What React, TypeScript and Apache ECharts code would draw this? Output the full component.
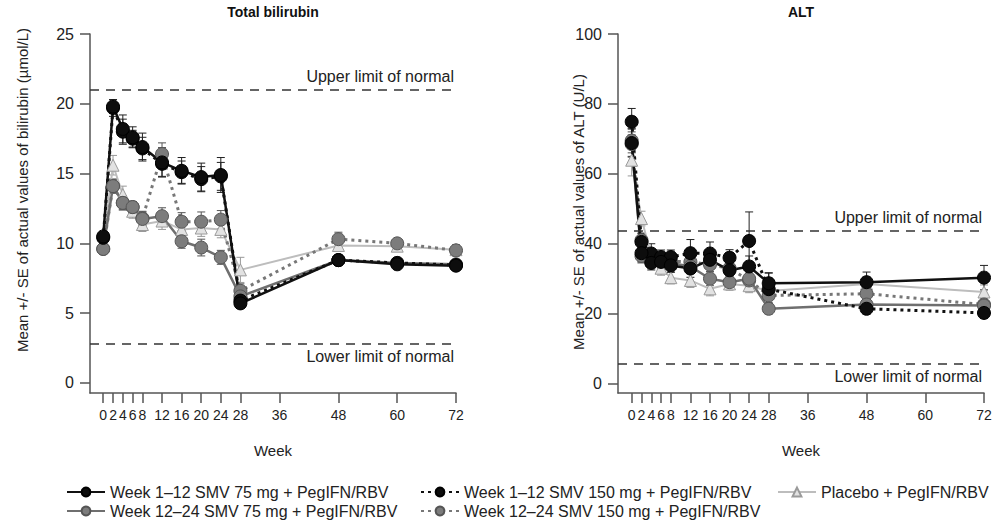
import React, { useEffect, useRef } from "react";
import * as echarts from "echarts";

// ---------- data ----------
const weeksBili = [0, 2, 4, 6, 8, 12, 16, 20, 24, 28, 48, 60, 72];
const weeksAlt = [0, 2, 4, 6, 8, 12, 16, 20, 24, 28, 48, 72];
const weekTicks = [0, 2, 4, 6, 8, 12, 16, 20, 24, 28, 36, 48, 60, 72];
const biliTicks = [0, 5, 10, 15, 20, 25];
const altTicks = [0, 20, 40, 60, 80, 100];

const nameA = "Week 1–12 SMV 75 mg + PegIFN/RBV";
const nameB = "Week 1–12 SMV 150 mg + PegIFN/RBV";
const nameC = "Week 12–24 SMV 75 mg + PegIFN/RBV";
const nameD = "Week 12–24 SMV 150 mg + PegIFN/RBV";
const nameE = "Placebo + PegIFN/RBV";

// Total bilirubin (µmol/L) means and SE
const biliA = [10.5, 19.8, 18.2, 17.6, 16.9, 15.8, 15.2, 14.75, 14.9, 5.7, 8.8, 8.5, 8.4];
const biliB = [10.4, 19.7, 18.0, 17.5, 16.8, 15.7, 15.1, 14.6, 14.8, 5.9, 8.8, 8.6, 8.45];
const biliC = [9.6, 14.1, 12.9, 12.6, 11.75, 11.95, 10.15, 9.7, 9.0, 6.2, 8.8, 8.6, 8.5];
const biliD = [9.6, 14.1, 12.9, 12.6, 11.8, 16.4, 11.55, 11.55, 11.7, 6.6, 10.3, 10.0, 9.5];
const biliE = [10.0, 15.6, 13.5, 12.3, 11.35, 11.6, 11.0, 11.1, 11.0, 8.1, 9.85, 9.8, 9.55];

const biliSeA = [0.3, 0.5, 1.0, 0.75, 1.0, 1.05, 0.95, 1.0, 1.25, 0.3, 0.2, 0.2, 0.2];
const biliSeB = [0.3, 0.6, 0.9, 0.6, 0.8, 0.9, 0.8, 0.9, 1.0, 0.3, 0.2, 0.2, 0.2];
const biliSeC = [0.2, 0.5, 0.5, 0.4, 0.5, 0.6, 0.5, 0.6, 0.5, 0.4, 0.3, 0.3, 0.3];
const biliSeD = [0.2, 0.5, 0.5, 0.4, 0.5, 0.8, 0.65, 0.7, 0.65, 0.5, 0.5, 0.3, 0.4];
const biliSeE = [0.3, 0.7, 0.6, 0.5, 0.5, 0.6, 0.6, 0.6, 0.6, 0.9, 0.4, 0.3, 0.3];

// ALT (U/L) means and SE
const altA = [68.8, 37.3, 34.5, 34.8, 33.8, 32.9, 35.4, 32.4, 33.5, 28.7, 29.0, 30.3];
const altB = [74.9, 40.5, 37.2, 36.2, 36.2, 37.3, 37.2, 36.0, 40.8, 27.0, 21.4, 20.2];
const altC = [68.5, 36.5, 35.5, 35.0, 34.5, 33.5, 30.0, 29.0, 30.0, 21.4, 22.6, 22.3];
const altD = [69.5, 41.0, 36.0, 35.5, 35.0, 34.8, 34.0, 33.0, 29.5, 25.2, 25.7, 22.6];
const altE = [63.9, 47.2, 36.5, 33.0, 30.3, 29.5, 27.1, 28.5, 28.0, 26.5, 28.5, 26.2];

const altSeA = [4.0, 2.5, 2.0, 2.0, 2.0, 2.5, 2.5, 2.0, 3.0, 3.0, 2.9, 3.5];
const altSeB = [3.8, 2.5, 2.8, 2.0, 2.0, 3.9, 3.3, 2.3, 8.3, 4.6, 1.5, 1.5];
const altSeC = [3.5, 2.0, 1.5, 1.5, 1.5, 2.0, 2.0, 1.5, 2.0, 1.5, 1.5, 1.5];
const altSeD = [3.5, 2.0, 2.0, 1.5, 1.5, 2.0, 2.0, 1.5, 2.0, 2.0, 1.5, 1.5];
const altSeE = [4.5, 2.1, 2.0, 2.0, 1.8, 2.0, 2.0, 1.8, 2.0, 2.0, 2.0, 2.0];

// reference limits
const biliULN = 21;
const biliLLN = 2.8;
const altULN = 43.7;
const altLLN = 5.6;

// ---------- styles ----------
const FONT = "'Liberation Sans', Arial, Helvetica, sans-serif";
const TXT = "#222";

type Sty = {
  line: string;
  width: number;
  type: any;
  symbol: string;
  fill: string;
  border: string;
  err: string;
  size: number;
};
const styles: Record<string, Sty> = {
  A: { line: "#111", width: 2.5, type: "solid", symbol: "circle", fill: "#0d0d0d", border: "#000", err: "#222", size: 13 },
  B: { line: "#111", width: 3, type: [3, 4], symbol: "circle", fill: "#0d0d0d", border: "#000", err: "#222", size: 13 },
  C: { line: "#6f6f6f", width: 2.5, type: "solid", symbol: "circle", fill: "#7c7c7c", border: "#555", err: "#555", size: 13 },
  D: { line: "#777", width: 3, type: [3, 4], symbol: "circle", fill: "#7c7c7c", border: "#555", err: "#555", size: 13 },
  E: { line: "#bdbdbd", width: 2, type: "solid", symbol: "triangle", fill: "#e2e2e2", border: "#9a9a9a", err: "#999", size: 12 },
};

function pairs(weeks: number[], vals: number[]) {
  return weeks.map((w, i) => [w, vals[i]]);
}
function triples(weeks: number[], vals: number[], se: number[]) {
  return weeks.map((w, i) => [w, vals[i], se[i]]);
}

function errRender(color: string) {
  return (params: any, api: any) => {
    const x = api.value(0);
    const m = api.value(1);
    const s = api.value(2);
    const top = api.coord([x, m + s]);
    const bot = api.coord([x, m - s]);
    const w = 4;
    const style = { stroke: color, lineWidth: 1 };
    return {
      type: "group",
      children: [
        { type: "line", shape: { x1: top[0], y1: top[1], x2: bot[0], y2: bot[1] }, style },
        { type: "line", shape: { x1: top[0] - w, y1: top[1], x2: top[0] + w, y2: top[1] }, style },
        { type: "line", shape: { x1: bot[0] - w, y1: bot[1], x2: bot[0] + w, y2: bot[1] }, style },
      ],
    };
  };
}

function lineSeries(name: string, key: string, data: number[][], gi: number, extra?: any) {
  const s = styles[key];
  return {
    type: "line",
    name,
    xAxisIndex: gi,
    yAxisIndex: gi,
    data,
    symbol: s.symbol,
    symbolSize: s.size,
    showSymbol: true,
    lineStyle: { color: s.line, width: s.width, type: s.type, cap: "butt" },
    itemStyle: { color: s.fill, borderColor: s.border, borderWidth: 1 },
    emphasis: { disabled: true },
    z: 3,
    ...(extra || {}),
  };
}

function errSeries(key: string, data: number[][], gi: number) {
  return {
    type: "custom",
    name: key + "-se-" + gi,
    xAxisIndex: gi,
    yAxisIndex: gi,
    data,
    encode: { x: 0, y: 1 },
    renderItem: errRender(styles[key].err),
    silent: true,
    z: 2,
  };
}

function limitLines(upper: number, lower: number) {
  return {
    silent: true,
    symbol: ["none", "none"],
    animation: false,
    lineStyle: { color: "#333", width: 1.5, type: [9, 7] },
    label: {
      show: true,
      color: TXT,
      fontFamily: FONT,
      fontSize: 16,
      distance: [2, 5],
    },
    data: [
      { yAxis: upper, label: { formatter: "Upper limit of normal", position: "insideEndTop" } },
      { yAxis: lower, label: { formatter: "Lower limit of normal", position: "insideEndBottom" } },
    ],
  };
}

const axisLineStyle = { color: "#555", width: 1.5 };

function xAxisCfg(gi: number, min: number) {
  return {
    type: "value",
    gridIndex: gi,
    min,
    max: 72,
    name: "Week",
    nameLocation: "middle",
    nameGap: 50,
    nameTextStyle: { color: TXT, fontFamily: FONT, fontSize: 15 },
    axisLine: { show: true, onZero: false, lineStyle: axisLineStyle },
    axisTick: { show: true, length: 10, customValues: weekTicks, lineStyle: axisLineStyle },
    axisLabel: {
      customValues: weekTicks,
      color: TXT,
      fontFamily: FONT,
      fontSize: 14,
      margin: 15,
      hideOverlap: false,
    },
    splitLine: { show: false },
  };
}

function yAxisCfg(gi: number, min: number, max: number, ticks: number[]) {
  return {
    type: "value",
    gridIndex: gi,
    min,
    max,
    axisLine: { show: true, onZero: false, lineStyle: axisLineStyle },
    axisTick: { show: true, length: 10, customValues: ticks, lineStyle: axisLineStyle },
    axisLabel: {
      customValues: ticks,
      color: TXT,
      fontFamily: FONT,
      fontSize: 16,
      margin: 16,
      hideOverlap: false,
    },
    splitLine: { show: false },
  };
}

function buildOption() {
  const series: any[] = [];
  // draw order: placebo, gray, black (black on top)
  const bili: [string, string, number[], number[]][] = [
    [nameE, "E", biliE, biliSeE],
    [nameD, "D", biliD, biliSeD],
    [nameC, "C", biliC, biliSeC],
    [nameB, "B", biliB, biliSeB],
    [nameA, "A", biliA, biliSeA],
  ];
  const alt: [string, string, number[], number[]][] = [
    [nameE, "E", altE, altSeE],
    [nameD, "D", altD, altSeD],
    [nameC, "C", altC, altSeC],
    [nameB, "B", altB, altSeB],
    [nameA, "A", altA, altSeA],
  ];
  bili.forEach(([n, k, v, se], i) => {
    series.push(errSeries(k, triples(weeksBili, v, se), 0));
    series.push(
      lineSeries(n, k, pairs(weeksBili, v), 0, i === 0 ? { markLine: limitLines(biliULN, biliLLN) } : undefined)
    );
  });
  alt.forEach(([n, k, v, se], i) => {
    series.push(errSeries(k, triples(weeksAlt, v, se), 1));
    series.push(
      lineSeries(n, k, pairs(weeksAlt, v), 1, i === 0 ? { markLine: limitLines(altULN, altLLN) } : undefined)
    );
  });

  const legendBase = {
    orient: "vertical",
    top: 484,
    padding: 0,
    itemWidth: 38,
    itemHeight: 11,
    itemGap: 3,
    selectedMode: false,
    textStyle: { color: TXT, fontFamily: FONT, fontSize: 16 },
  };

  return {
    animation: false,
    backgroundColor: "#fff",
    textStyle: { fontFamily: FONT },
    title: [
      {
        text: "Total bilirubin",
        left: 273,
        top: 5,
        padding: 0,
        textAlign: "center",
        textStyle: { fontSize: 14, fontWeight: "bold", color: "#111", fontFamily: FONT },
      },
      {
        text: "ALT",
        left: 801,
        top: 5,
        padding: 0,
        textAlign: "center",
        textStyle: { fontSize: 14, fontWeight: "bold", color: "#111", fontFamily: FONT },
      },
    ],
    grid: [
      { left: 90, top: 34, width: 366, height: 359, containLabel: false },
      { left: 618, top: 34, width: 366, height: 359, containLabel: false },
    ],
    xAxis: [xAxisCfg(0, -2.7), xAxisCfg(1, -2.8)],
    yAxis: [yAxisCfg(0, -0.72, 25, biliTicks), yAxisCfg(1, -2.7, 100, altTicks)],
    legend: [
      { ...legendBase, left: 66, data: [nameA, nameC] },
      { ...legendBase, left: 420, data: [nameB, nameD] },
      { ...legendBase, left: 777, data: [nameE] },
    ],
    graphic: [
      {
        type: "text",
        x: 22,
        y: 190,
        rotation: Math.PI / 2,
        style: {
          text: "Mean +/- SE of actual values of bilirubin (µmol/L)",
          fill: TXT,
          fontFamily: FONT,
          fontSize: 15,
          align: "center",
          verticalAlign: "middle",
        },
      },
      {
        type: "text",
        x: 578,
        y: 212,
        rotation: Math.PI / 2,
        style: {
          text: "Mean +/- SE of actual values of ALT (U/L)",
          fill: TXT,
          fontFamily: FONT,
          fontSize: 15,
          align: "center",
          verticalAlign: "middle",
        },
      },
    ],
    series,
  };
}

export default function App() {
  const ref = useRef<HTMLDivElement>(null);
  useEffect(() => {
    if (!ref.current) return;
    const chart = echarts.init(ref.current, undefined, { renderer: "svg" });
    chart.setOption(buildOption() as any);
    return () => chart.dispose();
  }, []);
  return (
    <div
      ref={ref}
      style={{ position: "fixed", left: 0, top: 0, width: 997, height: 527, background: "#fff" }}
    />
  );
}
